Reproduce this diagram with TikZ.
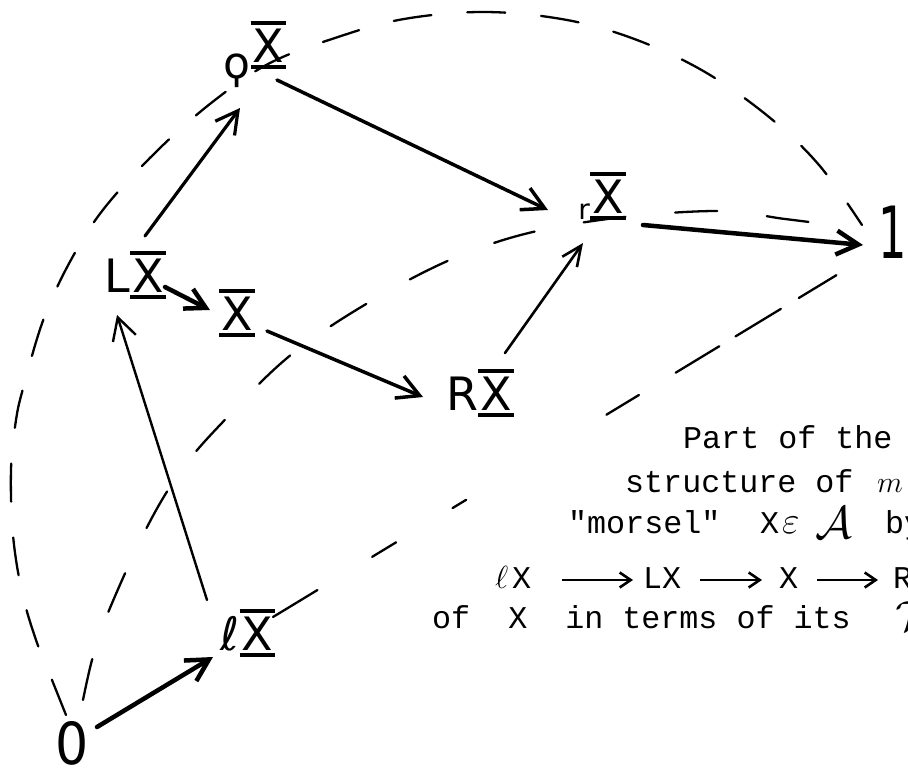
\RequirePackage{fix-cm}
\documentclass[tikz,border=0pt]{standalone}
\usepackage{fontspec}
\usetikzlibrary{arrows.meta,calc}
\newfontfamily\hand{DejaVu Sans}
\newfontfamily\tw{Liberation Mono}
\newcommand\bx{\lower7pt\vbox{\hrule height 4pt\kern3pt\hbox{\kern2pt X\kern2pt}\kern3pt\hrule height 4pt}}
\begin{document}
\begin{tikzpicture}[x=1pt,y=-1pt,
  lab/.style={inner sep=0pt, anchor=base, font=\hand\fontsize{46}{46}\selectfont},
  tt/.style={inner sep=0pt, anchor=base west, font=\tw\fontsize{31.7}{38}\selectfont},
  hw/.style={inner sep=0pt, anchor=base west},
  ar/.style={-{Straight Barb[length=22pt,width=24pt]}, line width=3.5pt, line cap=round},
  tarr/.style={-{Straight Barb[length=11pt,width=15pt]}, line width=2.6pt},
  dsh/.style={line width=2.3pt, line cap=round},
]
\clip (0,0) rectangle (908,771);
\fill[white] (0,0) rectangle (908,771);

% labels
\node[lab, font=\hand\fontsize{58}{58}\selectfont] (o) at (72,764) {\scalebox{0.9}[1]{0}};
\node[lab] (lx) at (248,650) {ℓ\bx};
\node[lab] (LX) at (135,292) {L\bx};
\node[lab] (X) at (237,330) {\bx};
\node[lab] (R) at (480,410) {R\bx};
\node[lab] (r) at (602,213) {{\fontsize{28}{28}\selectfont\lower6pt\hbox{r}}\bx};
\node[lab] (q) at (255,62) {{\fontsize{44}{44}\selectfont\lower16pt\hbox{ϙ}}\bx};
\node[lab, font=\hand\fontsize{72}{72}\selectfont] (one) at (893,258) {\scalebox{0.62}[1]{1}};

% dashed arcs
\coordinate (a0) at ($(o.base)+(-6,-49)$);
\coordinate (a1) at ($(one.base)+(-31,-33)$);
\draw[dsh, dash pattern=on 38pt off 36pt] plot[smooth, tension=0.6] coordinates {(a0) (52,680) (36,640) (22,592) (13,535) (11,470) (16,420) (24,385) (44,318) (72,258) (106,206) (160,148) (215,100) (270,63) (338,37) (404,19) (485,12) (567,20) (637,40) (705,72) (769,117) (819,165) (a1)};

\coordinate (b0) at ($(o.base)+(11,-64)$);
\coordinate (b1) at ($(one.base)+(-53,-32)$);
\draw[dsh, dash pattern=on 42pt off 50pt] plot[smooth, tension=0.6] coordinates {(b0) (92,660) (105,620) (143,535) (178,475) (220,425) (297,350) (405,282) (500,241) (600,220) (715,211) (785,219) (b1)};

\coordinate (c0) at ($(lx.base)+(25,-33)$);
\coordinate (c1) at ($(one.base)+(-53,15)$);
\draw[dsh, dash pattern=on 52pt off 64pt on 28pt off 66pt on 16pt off 164pt on 38pt off 43pt on 51pt off 19pt on 53pt off 21pt on 44pt off 40pt] (c0) -- (c1);

% arrows
\draw[ar, line width=4.5pt] ($(o.base)+(25,-37)$) -- ($(lx.base)+(-35,7)$);
\draw[ar, line width=2.4pt] ($(lx.base)+(-41,-50)$) -- ($(LX.base)+(-18,23)$);
\draw[ar, line width=4.5pt, -{Straight Barb[length=20pt,width=22pt]}] ($(LX.base)+(30,-5)$) -- ($(X.base)+(-27,-20)$);
\draw[ar, line width=3.2pt] ($(LX.base)+(10,-56)$) -- ($(q.base)+(-15,46)$);
\draw[ar, line width=3.5pt] ($(q.base)+(22,18)$) -- ($(r.base)+(-54,-3)$);
\draw[ar, line width=3.5pt] ($(X.base)+(30,1)$) -- ($(R.base)+(-57,-13)$);
\draw[ar, line width=2.6pt, -{Straight Barb[length=20pt,width=18pt]}] ($(R.base)+(25,-57)$) -- ($(r.base)+(-19,30)$);
\draw[ar, line width=4.5pt] ($(r.base)+(41,12)$) -- ($(one.base)+(-30,-13)$);

% text block
\node[tt] (t1) at (683,448) {Part of the};
\node[tt] (t2) at (625,492) {structure of};
\node[hw, font=\fontsize{30}{30}\selectfont] (t2m) at (877,492) {$m$};
\node[tt] (t3) at (568,533) {"morsel"};
\node[tt] (t3x) at (760,533) {X};
\node[hw, font=\fontsize{38}{38}\selectfont] (t3e) at (782,533) {$\varepsilon$};
\node[hw, font=\fontsize{46}{46}\selectfont] (t3a) at (815,538) {$\mathcal{A}$};
\node[tt] (t3b) at (885,533) {by};
\node[hw, font=\fontsize{32}{32}\selectfont] (t4l) at (495,588) {$\ell$};
\node[tt] (t4x) at (512,588) {X};
\node[tt] (t4b) at (643,588) {LX};
\node[tt] (t4c) at (779,588) {X};
\node[tt] (t4d) at (893,588) {R};
\draw[tarr] ($(t4x.base east)+(31,-8)$) -- ($(t4b.base west)+(-10,-8)$);
\draw[tarr] ($(t4b.base east)+(19,-8)$) -- ($(t4c.base west)+(-17,-8)$);
\draw[tarr] ($(t4c.base east)+(19,-8)$) -- ($(t4d.base west)+(-15,-8)$);
\node[tt] (t5) at (432,628) {of~~X~~in terms of its};
\node[hw, font=\fontsize{42}{42}\selectfont] (t5t) at (895,630) {$\mathcal{T}$};
\end{tikzpicture}
\end{document}
